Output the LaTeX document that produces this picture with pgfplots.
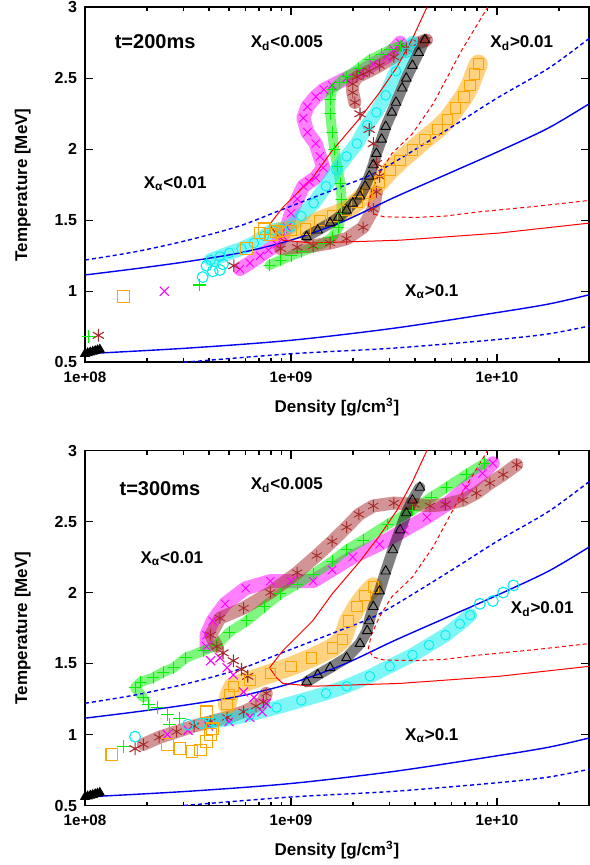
\documentclass[border=0pt]{standalone}
\usepackage{fontspec}
\setmainfont{Liberation Sans}
\usepackage{pgfplots}
\pgfplotsset{compat=1.18}
\definecolor{gM}{RGB}{255,0,255}
\definecolor{gG}{RGB}{0,240,0}
\definecolor{gB}{RGB}{165,42,42}
\definecolor{gC}{RGB}{0,238,238}
\definecolor{gO}{RGB}{255,165,0}
\definecolor{gBlue}{RGB}{0,0,240}
\definecolor{gRed}{RGB}{255,0,0}
\tikzset{
 lbl/.style={font=\fontsize{8.5}{10}\selectfont\bfseries},
 tlbl/.style={font=\fontsize{10}{12}\selectfont\bfseries},
 band/.style={line width=#1, opacity=0.5, line join=round, line cap=round},
 mk/.style={mark options={opacity=1, line width=0.45pt, solid}},
 bM/.style={gM, band=7pt, mark=x, mark size=2.8pt, mk},
 bG/.style={gG, band=5pt, mark=+, mark size=2.8pt, mk},
 bB/.style={gB, band=6.5pt, mark=asterisk, mark size=2.8pt, mk},
 bC/.style={gC, band=7pt, mark=o, mark size=2.4pt, mk},
 bO/.style={gO, band=9.5pt, mark=square, mark size=2.6pt, mk},
 bK/.style={black, band=5.5pt, mark=triangle, mark size=2.8pt, mk},
 pM/.style={gM, only marks, mark=x, mark size=3.2pt, mark options={line width=0.55pt}},
 pG/.style={gG, only marks, mark=+, mark size=3.2pt, mark options={line width=0.55pt}},
 pB/.style={gB, only marks, mark=asterisk, mark size=3.2pt, mark options={line width=0.55pt}},
 pC/.style={gC, only marks, mark=o, mark size=2.7pt, mark options={line width=0.55pt}},
 pO/.style={gO, only marks, mark=square, mark size=2.9pt, mark options={line width=0.55pt}},
 pK/.style={black, only marks, mark=triangle*, mark size=2.6pt, mark options={line width=0.4pt}},
}
\newcommand{\drawlines}{%
 \addplot[gBlue, line width=0.7pt, smooth] coordinates {(1e8,1.115) (1.778e8,1.16) (3.162e8,1.21) (5.623e8,1.27) (1e9,1.36) (1.778e9,1.49) (3.162e9,1.66) (5.623e9,1.82) (1e10,1.98) (1.778e10,2.15) (2.8e10,2.32)};
 \addplot[gBlue, line width=0.7pt, smooth, dash pattern=on 2pt off 1.5pt] coordinates {(1e8,1.22) (1.778e8,1.28) (3.162e8,1.36) (5.623e8,1.46) (8.851e8,1.57) (1.778e9,1.74) (2.692e9,1.85) (5.623e9,2.13) (1e10,2.36) (1.778e10,2.57) (2.8e10,2.78)};
 \addplot[gBlue, line width=0.7pt, smooth] coordinates {(1e8,0.56) (3.162e8,0.60) (1e9,0.655) (3.162e9,0.74) (1e10,0.85) (1.778e10,0.91) (2.8e10,0.975)};
 \addplot[gBlue, line width=0.7pt, smooth, dash pattern=on 2pt off 1.5pt] coordinates {(3.02e8,0.50) (1e9,0.56) (3.162e9,0.60) (1e10,0.66) (1.778e10,0.70) (2.8e10,0.755)};
 \addplot[gRed, line width=0.5pt] coordinates {(4.8e9,3.08) (4.571e9,3.0) (3.890e9,2.78) (3.273e9,2.58) (2.692e9,2.40) (2.163e9,2.22) (1.585e9,1.99) (1.274e9,1.80) (9.12e8,1.59) (7.87e8,1.47) (8.511e8,1.40) (9.12e8,1.36) (1.274e9,1.34) (3.388e9,1.36) (1.023e10,1.41) (2.8e10,1.48)};
 \addplot[gRed, line width=0.5pt, dash pattern=on 2pt off 1.5pt] coordinates {(9.55e9,3.1) (9.016e9,3.0) (6.761e9,2.70) (4.898e9,2.32) (3.890e9,2.11) (3.090e9,1.97) (2.692e9,1.83) (2.455e9,1.70) (2.371e9,1.60) (2.512e9,1.545) (2.818e9,1.525) (3.981e9,1.52) (5.623e9,1.53) (8.260e9,1.56) (1.585e10,1.60) (2.8e10,1.64)};
}
\pgfplotsset{
  every axis/.append style={
  scale only axis, width=252pt, height=177.5pt,
  xmin=1e8, xmax=2.8e10, ymin=0.5, ymax=3,
  xtick={1e8,1e9,1e10}, xticklabels={1e+08,1e+09,1e+10},
  minor xtick={2e8,3e8,4e8,5e8,6e8,7e8,8e8,9e8,2e9,3e9,4e9,5e9,6e9,7e9,8e9,9e9,2e10},
  ytick={0.5,1,1.5,2,2.5,3}, yticklabels={0.5,1,1.5,2,2.5,3},
  tick align=inside, major tick length=4pt, minor tick length=2pt,
  axis line style={line width=0.8pt},
  every tick/.style={black, line width=0.6pt},
  xticklabel style={font=\fontsize{7.6}{9}\selectfont\bfseries, yshift=-1.2pt},
  yticklabel style={font=\fontsize{8}{9.5}\selectfont\bfseries, xshift=-0.5pt},
  label style={font=\fontsize{8.5}{10}\selectfont\bfseries},
  xlabel={Density [g/cm\textsuperscript{3}]}, ylabel={Temperature [MeV]},
  xlabel style={at={(axis description cs:0.5,-0.126)}, anchor=center},
  ylabel style={at={(axis description cs:-0.1236,0.5)}, anchor=center}}
}
\begin{document}
\begin{tikzpicture}
% ---------------- t = 200 ms ----------------
\begin{axis}[xmode=log, at={(42.5pt,-3.65pt)}, anchor=north west]
\addplot[pM] coordinates {(2.427e8,1.00)};
\addplot[bM] coordinates {(5.649e8,1.157) (6.310e8,1.20) (7.079e8,1.25) (7.762e8,1.29) (8.511e8,1.33) (9.120e8,1.39) (9.550e8,1.45) (1e9,1.55) (1.072e9,1.65) (1.148e9,1.74) (1.230e9,1.77) (1.318e9,1.80) (1.435e9,1.87) (1.380e9,1.95) (1.318e9,2.04) (1.202e9,2.12) (1.148e9,2.22) (1.202e9,2.30) (1.318e9,2.37) (1.445e9,2.42) (1.585e9,2.45) (1.862e9,2.50) (2.163e9,2.54) (2.512e9,2.60) (2.911e9,2.65) (3.162e9,2.70) (3.388e9,2.75)};
\addplot[pG] coordinates {(1.038e8,0.68) (3.589e8,1.044)};
\addplot[bG] coordinates {(7.870e8,1.185) (8.913e8,1.22) (1e9,1.25) (1.122e9,1.28) (1.282e9,1.31) (1.445e9,1.34) (1.585e9,1.38) (1.698e9,1.45) (1.762e9,1.55) (1.76e9,1.65) (1.738e9,1.76) (1.679e9,1.88) (1.622e9,2.0) (1.585e9,2.12) (1.549e9,2.25) (1.549e9,2.35) (1.585e9,2.42) (1.718e9,2.47) (1.862e9,2.51) (2.138e9,2.57) (2.415e9,2.63) (2.754e9,2.67) (3.020e9,2.70) (3.388e9,2.73)};
\addplot[pB] coordinates {(1.161e8,0.69) (5.284e8,1.18)};
\addplot[bB] coordinates {(8.913e8,1.30) (1.072e9,1.31) (1.282e9,1.32) (1.549e9,1.34) (1.862e9,1.37) (2.239e9,1.45) (2.512e9,1.58) (2.600e9,1.70)};
\addplot[pB] coordinates {(2.692e9,1.81) (2.600e9,1.90) (2.512e9,2.04) (2.399e9,2.14) (2.163e9,2.25)};
\addplot[bB] coordinates {(2.042e9,2.33) (1.995e9,2.40) (1.995e9,2.46) (2.089e9,2.51) (2.239e9,2.53) (2.399e9,2.55) (2.692e9,2.59) (3.162e9,2.65) (3.631e9,2.71) (4.169e9,2.75) (4.550e9,2.77)};
\addplot[pC] coordinates {(3.724e8,1.10) (3.890e8,1.18) (4.169e8,1.14) (4.519e8,1.15) (4.677e8,1.19)};
\addplot[bC] coordinates {(4.074e8,1.22) (4.519e8,1.245) (5.012e8,1.27) (5.754e8,1.30) (6.607e8,1.34) (7.413e8,1.39) (8.128e8,1.43) (9.016e8,1.44) (1e9,1.455) (1.122e9,1.53) (1.288e9,1.62) (1.479e9,1.74) (1.660e9,1.855) (1.862e9,1.95) (2.089e9,2.04) (2.344e9,2.17) (2.600e9,2.26) (2.884e9,2.38) (3.236e9,2.55) (3.631e9,2.68) (3.890e9,2.75)};
\addplot[pO] coordinates {(1.535e8,0.962) (6.095e8,1.30) (7.079e8,1.41) (7.413e8,1.44) (7.943e8,1.40) (8.511e8,1.42)};
\addplot[bO] coordinates {(8.913e8,1.42) (1e9,1.43) (1.175e9,1.44) (1.380e9,1.50) (1.585e9,1.53) (1.862e9,1.57) (2.089e9,1.63) (2.344e9,1.69) (2.692e9,1.77) (3.020e9,1.85) (3.388e9,1.92) (3.890e9,1.995) (4.467e9,2.07) (5.129e9,2.14) (5.754e9,2.21) (6.310e9,2.29) (6.918e9,2.37) (7.413e9,2.45) (7.762e9,2.53) (8.128e9,2.60)};
\addplot[pK] coordinates {(1.0e8,0.56) (1.03e8,0.565) (1.06e8,0.57) (1.09e8,0.575) (1.12e8,0.58) (1.15e8,0.585) (1.18e8,0.59)};
\addplot[bK] coordinates {(1.191e9,1.385) (1.349e9,1.43) (1.549e9,1.48) (1.698e9,1.52) (1.862e9,1.57) (1.995e9,1.62) (2.163e9,1.67) (2.291e9,1.74) (2.399e9,1.81) (2.512e9,1.89) (2.600e9,1.97) (2.754e9,2.07) (2.884e9,2.16) (3.090e9,2.26) (3.236e9,2.33) (3.467e9,2.43) (3.631e9,2.50) (3.890e9,2.59) (4.169e9,2.68) (4.467e9,2.77)};
\drawlines
\node[tlbl] at (axis cs:2.19e8,2.755) {t=200ms};
\node[lbl] at (axis cs:9.55e8,2.75) {X\textsubscript{d}<0.005};
\node[lbl] at (axis cs:1.32e10,2.745) {X\textsubscript{d}>0.01};
\node[lbl] at (axis cs:2.74e8,1.755) {X\textsubscript{α}<0.01};
\node[lbl] at (axis cs:4.83e9,0.995) {X\textsubscript{α}>0.1};
\end{axis}
% ---------------- t = 300 ms ----------------
\begin{axis}[xmode=log, at={(42.5pt,-225.25pt)}, anchor=north west]
\addplot[pM] coordinates {(2.512e8,1.00) (3.162e8,1.03) (3.981e8,1.06) (5.012e8,1.09) (6.310e8,1.12) (7.244e8,1.16) (7.586e8,1.22) (6.607e8,1.26) (5.888e8,1.30) (5.248e8,1.42) (4.898e8,1.47) (4.519e8,1.54) (4.074e8,1.52)};
\addplot[bM] coordinates {(3.890e8,1.62) (3.890e8,1.70) (4.169e8,1.80) (4.786e8,1.92) (6.026e8,2.03) (7.943e8,2.08) (1e9,2.08) (1.282e9,2.08) (1.585e9,2.16) (1.995e9,2.25) (2.692e9,2.34) (3.548e9,2.44) (4.571e9,2.53) (5.689e9,2.62) (7.079e9,2.74) (8.511e9,2.84) (9.550e9,2.91)};
\addplot[pG] coordinates {(1.535e8,0.915) (2.028e8,1.21) (2.239e8,1.19) (2.512e8,1.14) (2.884e8,1.115) (2.570e8,1.07)};
\addplot[bG] coordinates {(1.919e8,1.26) (1.750e8,1.33) (1.862e8,1.37) (2.138e8,1.40) (2.399e8,1.44) (2.692e8,1.47) (3.090e8,1.54) (3.758e8,1.59) (4.365e8,1.63) (5.012e8,1.72) (6.095e8,1.80) (7.413e8,1.90) (8.851e8,1.99) (1.072e9,2.06) (1.282e9,2.13) (1.585e9,2.22) (1.862e9,2.30) (2.239e9,2.37) (2.951e9,2.48) (3.890e9,2.58) (4.786e9,2.67) (5.689e9,2.74) (7.079e9,2.83) (8.710e9,2.91)};
\addplot[pB] coordinates {(1.750e8,0.90) (6.166e8,1.41) (5.754e8,1.46) (5.248e8,1.52) (4.677e8,1.575)};
\addplot[bB] coordinates {(1.919e8,0.93) (2.291e8,0.98) (2.786e8,1.02) (3.388e8,1.06) (4.074e8,1.09) (4.898e8,1.12) (5.888e8,1.16) (6.761e8,1.20) (7.345e8,1.23) (7.586e8,1.29)};
\addplot[bB] coordinates {(4.365e8,1.62) (4.074e8,1.70) (4.519e8,1.82) (5.888e8,1.89) (7.943e8,2.00) (1.072e9,2.14) (1.334e9,2.26) (1.585e9,2.36) (1.862e9,2.46) (2.138e9,2.55) (2.512e9,2.61) (3.162e9,2.63) (3.981e9,2.62) (4.732e9,2.61) (5.623e9,2.62) (6.839e9,2.65) (7.943e9,2.70) (9.247e9,2.77) (1.072e10,2.83) (1.247e10,2.90)};
\addplot[pC] coordinates {(1.750e8,0.985) (3.162e8,1.07) (3.681e8,1.08) (3.981e8,1.085) (8.260e9,1.92) (9.550e9,1.94) (1.072e10,2.00) (1.202e10,2.05)};
\addplot[bC] coordinates {(4.169e8,1.09) (5.012e8,1.11) (6.310e8,1.14) (8.511e8,1.19) (1.122e9,1.24) (1.479e9,1.29) (1.862e9,1.34) (2.415e9,1.41) (3.020e9,1.48) (3.890e9,1.56) (4.677e9,1.63) (5.623e9,1.70) (6.607e9,1.78) (7.413e9,1.84)};
\addplot[pO] coordinates {(1.349e8,0.86) (2.512e8,0.93) (2.884e8,0.90) (3.311e8,0.88) (3.631e8,0.89) (3.890e8,0.95) (4.074e8,1.00) (4.169e8,1.04) (3.890e8,1.16)};
\addplot[bO] coordinates {(4.898e8,1.21) (5.012e8,1.28) (5.248e8,1.34) (6.310e8,1.38) (7.943e8,1.43) (1e9,1.48) (1.259e9,1.54) (1.585e9,1.61) (1.778e9,1.67) (1.905e9,1.80) (2.089e9,1.90) (2.291e9,1.98) (2.512e9,2.04)};
\addplot[pK] coordinates {(1.0e8,0.56) (1.03e8,0.565) (1.06e8,0.57) (1.09e8,0.575) (1.12e8,0.58) (1.15e8,0.585) (1.18e8,0.59)};
\addplot[bK] coordinates {(1.191e9,1.37) (1.349e9,1.42) (1.549e9,1.47) (1.862e9,1.54) (2.163e9,1.64) (2.344e9,1.73) (2.399e9,1.80) (2.512e9,1.90) (2.692e9,2.01) (2.884e9,2.15) (3.126e9,2.30) (3.388e9,2.44) (3.631e9,2.56) (3.890e9,2.65) (4.227e9,2.74)};
\drawlines
\node[tlbl] at (axis cs:2.31e8,2.73) {t=300ms};
\node[lbl] at (axis cs:9.55e8,2.755) {X\textsubscript{d}<0.005};
\node[lbl] at (axis cs:2.64e8,2.24) {X\textsubscript{α}<0.01};
\node[lbl] at (axis cs:1.66e10,1.88) {X\textsubscript{d}>0.01};
\node[lbl] at (axis cs:4.83e9,0.995) {X\textsubscript{α}>0.1};
\end{axis}
\pgfresetboundingbox
\path[use as bounding box] (0pt,0pt) rectangle (294.5pt,-432.5pt);
\end{tikzpicture}
\end{document}
